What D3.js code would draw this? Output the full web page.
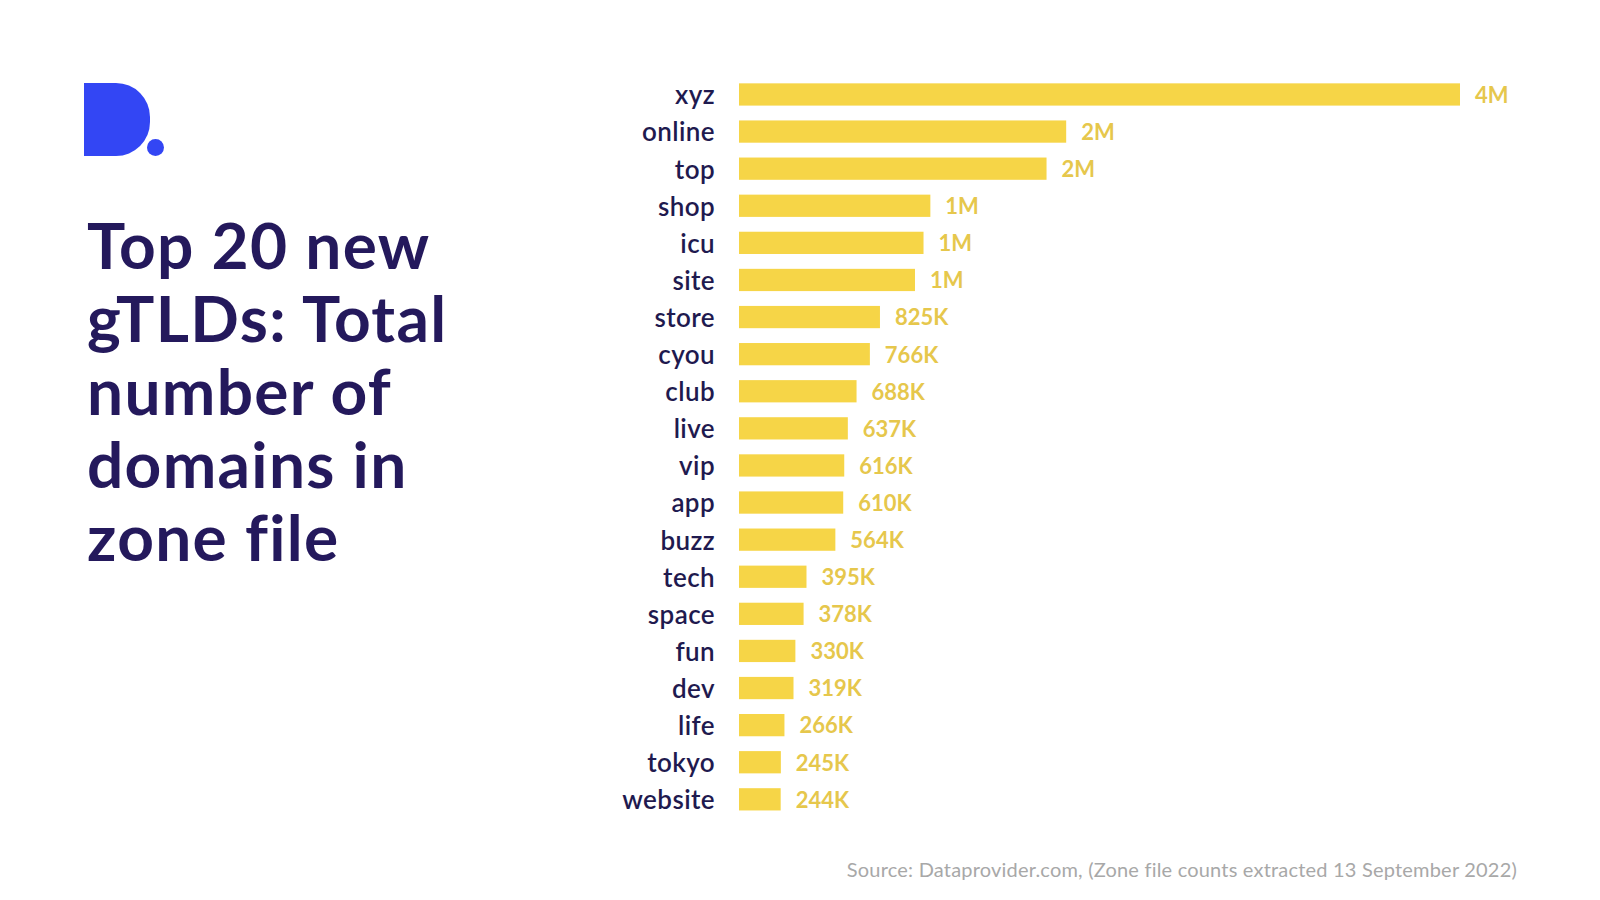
<!DOCTYPE html>
<html>
<head>
<meta charset="utf-8">
<script src="https://cdn.jsdelivr.net/npm/d3@7"></script>
<style>
  body { margin: 0; background: #fff; }
  svg { display: block; font-family: Lato, 'Open Sans', sans-serif; }
</style>
</head>
<body>
<div id="chart"></div>
<script>
const tlds = ['xyz', 'online', 'top', 'shop', 'icu', 'site', 'store', 'cyou', 'club', 'live',
  'vip', 'app', 'buzz', 'tech', 'space', 'fun', 'dev', 'life', 'tokyo', 'website']
const domains = [4220000, 1915000, 1800000, 1120000, 1080000, 1030000, 825000, 766000, 688000, 637000,
  616000, 610000, 564000, 395000, 378000, 330000, 319000, 266000, 245000, 244000]
const titleLines = ['Top 20 new', 'gTLDs: Total', 'number of', 'domains in', 'zone file']
const sourceText = 'Source: Dataprovider.com, (Zone file counts extracted 13 September 2022)'

const data = tlds.map((t, i) => ({ tld: t, value: domains[i] }))

const width = 1600
const height = 900

const svg = d3.select('#chart').append('svg')
  .attr('width', width)
  .attr('height', height)

// logo
const logo = svg.append('g').attr('fill', '#3346f4')
logo.append('path')
  .attr('d', 'M84,83 H116 A34,34 0 0 1 150,117 V122 A34,34 0 0 1 116,156 H84 Z')
logo.append('circle').attr('cx', 155.5).attr('cy', 147.5).attr('r', 8.5)

// title
svg.append('g')
  .selectAll('text')
  .data(titleLines)
  .join('text')
  .attr('x', 87)
  .attr('y', (d, i) => 269 + i * 73)
  .attr('fill', '#24195c')
  .attr('font-size', 64)
  .attr('font-weight', 700)
  .attr('letter-spacing', 1.3)
  .text(d => d)

// bars
const x = d3.scaleLinear().domain([0, 4220000]).range([739, 1460])
const y = d3.scaleBand().domain(tlds).range([68.5, 825.3]).padding(0.4)

const fmt = v => v >= 1e6 ? Math.round(v / 1e6) + 'M' : Math.round(v / 1e3) + 'K'

svg.append('g')
  .selectAll('rect')
  .data(data)
  .join('rect')
  .attr('x', x(0))
  .attr('y', d => y(d.tld))
  .attr('width', d => x(d.value) - x(0))
  .attr('height', y.bandwidth())
  .attr('fill', '#f6d547')

svg.append('g')
  .selectAll('text')
  .data(data)
  .join('text')
  .attr('x', 715)
  .attr('y', d => y(d.tld) + y.bandwidth() / 2)
  .attr('dy', '0.38em')
  .attr('text-anchor', 'end')
  .attr('fill', '#1f1a4f')
  .attr('font-size', 26)
  .attr('font-weight', 600)
  .attr('letter-spacing', 0.4)
  .text(d => d.tld)

svg.append('g')
  .selectAll('text')
  .data(data)
  .join('text')
  .attr('x', d => x(d.value) + 15)
  .attr('y', d => y(d.tld) + y.bandwidth() / 2)
  .attr('dy', '0.38em')
  .attr('fill', '#e6c74c')
  .attr('font-size', 22)
  .attr('font-weight', 700)
  .text(d => fmt(d.value))

// source
svg.append('text')
  .attr('x', 1517)
  .attr('y', 877)
  .attr('text-anchor', 'end')
  .attr('fill', '#a8a8a8')
  .attr('font-size', 20)
  .attr('font-weight', 400)
  .attr('letter-spacing', 0.2)
  .text(sourceText)
</script>
</body>
</html>
